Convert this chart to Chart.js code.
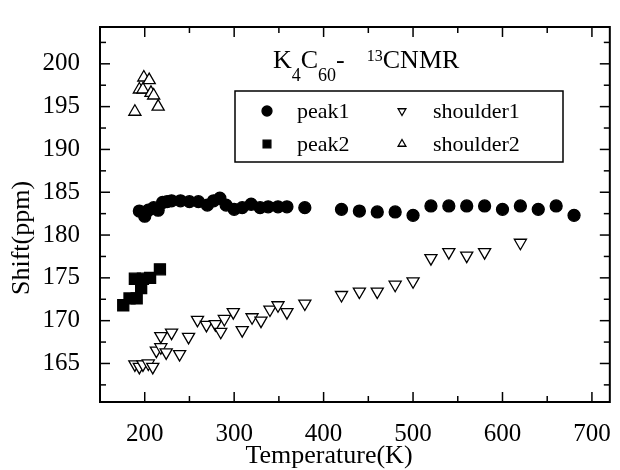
<!DOCTYPE html>
<html>
<head>
<meta charset="utf-8">
<script src="https://cdn.jsdelivr.net/npm/chart.js@4/dist/chart.umd.min.js"></script>
<style>
  html, body { margin: 0; background: #fff; }
  #wrap { width: 620px; height: 470px; }
</style>
</head>
<body>
<div id="wrap"><canvas id="nmr"></canvas></div>
<script>
const FONT = '"Liberation Serif", "DejaVu Serif", serif';

const peak1T = [194, 200, 204, 210, 215, 220, 225, 230, 240, 250, 260, 270, 277, 284, 291, 300, 309, 319, 329, 338, 349, 359, 379,
                420, 440, 460, 480, 500, 520, 540, 560, 580, 600, 620, 640, 660, 680];
const peak1S = [182.8, 182.2, 182.9, 183.2, 182.9, 183.8, 183.9, 184.0, 184.0, 183.9, 183.9, 183.5, 184.0, 184.3, 183.5, 183.0, 183.2, 183.6, 183.2, 183.3, 183.3, 183.3, 183.2,
                183.0, 182.8, 182.7, 182.7, 182.3, 183.4, 183.4, 183.4, 183.4, 183.0, 183.4, 183.0, 183.4, 182.3];

const peak2T = [176, 183, 191, 189, 196, 198, 206, 217];
const peak2S = [171.8, 172.6, 172.6, 174.9, 173.8, 174.9, 175.0, 176.0];

const shoulder1T = [189, 194, 198, 204, 209, 213, 218, 218, 224, 230, 239, 249, 259, 269, 279, 285, 289, 299, 309, 320, 330, 340, 349, 359, 379,
                    420, 440, 460, 480, 500, 520, 540, 560, 580, 620];
const shoulder1S = [164.9, 164.6, 164.9, 165.0, 164.6, 166.5, 166.9, 168.2, 166.3, 168.6, 166.1, 168.1, 170.1, 169.5, 169.6, 168.7, 170.2, 171.0, 168.9, 170.4, 170.0, 171.3, 171.8, 171.0, 172.0,
                    173.0, 173.4, 173.4, 174.2, 174.6, 177.3, 178.0, 177.6, 178.0, 179.1];

const shoulder2T = [189, 194, 198, 199, 205, 207, 210, 215];
const shoulder2S = [194.4, 197.0, 197.0, 198.4, 198.1, 196.6, 196.3, 195.0];

const xRange = [150, 720];
const yRange = [160.5, 204.3];

const pts = (xs, ys) => xs.map((x, i) => ({ x: x, y: ys[i] }));

const series = [
  { label: 'peak1', data: pts(peak1T, peak1S), pointStyle: 'circle', pointRadius: 6, pointRotation: 0,
    pointBackgroundColor: '#000', legend: { col: 0, row: 0, r: 5 } },
  { label: 'peak2', data: pts(peak2T, peak2S), pointStyle: 'rect', pointRadius: 7.8, pointRotation: 0,
    pointBackgroundColor: '#000', legend: { col: 0, row: 1, r: 5.5 } },
  { label: 'shoulder1', data: pts(shoulder1T, shoulder1S), pointStyle: 'triangle', pointRadius: 7, pointRotation: 180,
    pointBackgroundColor: '#fff', legend: { col: 1, row: 0, r: 4.5 } },
  { label: 'shoulder2', data: pts(shoulder2T, shoulder2S), pointStyle: 'triangle', pointRadius: 7, pointRotation: 0,
    pointBackgroundColor: '#fff', legend: { col: 1, row: 1, r: 4.5 } }
];

// frame, inward ticks, annotation text, legend box and axis titles
const decor = {
  id: 'decor',
  afterDraw(chart) {
    const ctx = chart.ctx, ca = chart.chartArea;
    const xs = chart.scales.x, ys = chart.scales.y;
    ctx.save();
    ctx.strokeStyle = '#000';
    ctx.lineWidth = 1.5;
    const line = (x1, y1, x2, y2) => { ctx.beginPath(); ctx.moveTo(x1, y1); ctx.lineTo(x2, y2); ctx.stroke(); };

    const xStep = xs.ticks[1].value - xs.ticks[0].value;
    xs.ticks.forEach(t => {
      [0, 0.5].forEach(f => {
        const v = t.value + f * xStep;
        if (v > xs.max) return;
        const px = xs.getPixelForValue(v), len = f ? 6 : 10;
        line(px, ca.bottom, px, ca.bottom - len);
        line(px, ca.top, px, ca.top + len);
      });
    });
    const yStep = ys.ticks[1].value - ys.ticks[0].value;
    ys.ticks.forEach(t => {
      [-0.5, 0, 0.5].forEach(f => {
        const v = t.value + f * yStep;
        if (v < ys.min || v > ys.max) return;
        if (f === -0.5 && t !== ys.ticks[0]) return;
        const py = ys.getPixelForValue(v), len = f ? 6 : 10;
        line(ca.left, py, ca.left + len, py);
        line(ca.right, py, ca.right - len, py);
      });
    });
    ctx.lineWidth = 2;
    ctx.strokeRect(ca.left, ca.top, ca.width, ca.height);

    ctx.fillStyle = '#000';
    ctx.textBaseline = 'alphabetic';
    ctx.textAlign = 'left';

    // K4C60-  13CNMR
    const parts = [
      { t: 'K', s: 26, dy: 0 }, { t: '4', s: 18, dy: 13 },
      { t: 'C', s: 26, dy: 0 }, { t: '60', s: 18, dy: 13 },
      { t: '-', s: 26, dy: 0 }, { t: '', s: 16, dy: 0, gap: 22 },
      { t: '13', s: 16, dy: -7 }, { t: 'CNMR', s: 26, dy: 0 }
    ];
    let tx = 273;
    const base = 68;
    parts.forEach(p => {
      ctx.font = p.s + 'px ' + FONT;
      ctx.fillText(p.t, tx, base + p.dy);
      tx += ctx.measureText(p.t).width + (p.gap || 0);
    });

    // legend
    const box = { x: 235, y: 91, w: 328, h: 71 };
    ctx.lineWidth = 1.5;
    ctx.strokeRect(box.x, box.y, box.w, box.h);
    const colMark = [267, 402], colText = [297, 433], rowY = [111, 144];
    ctx.font = '22px ' + FONT;
    ctx.textBaseline = 'middle';
    chart.data.datasets.forEach(ds => {
      const L = ds.legend;
      ctx.fillStyle = ds.pointBackgroundColor;
      ctx.strokeStyle = '#000';
      ctx.lineWidth = 1.3;
      Chart.helpers.drawPoint(ctx, { pointStyle: ds.pointStyle, radius: L.r, rotation: ds.pointRotation, borderWidth: 1.3 },
        colMark[L.col], rowY[L.row]);
      ctx.fillStyle = '#000';
      ctx.fillText(ds.label, colText[L.col], rowY[L.row] + 1);
    });

    // axis titles
    ctx.font = '26px ' + FONT;
    ctx.textAlign = 'center';
    ctx.textBaseline = 'alphabetic';
    ctx.fillText('Temperature(K)', 329, 463);
    ctx.translate(29, 238);
    ctx.rotate(-Math.PI / 2);
    ctx.fillText('Shift(ppm)', 0, 0);
    ctx.restore();
  }
};

const tickFont = { family: FONT, size: 25 };

new Chart(document.getElementById('nmr'), {
  type: 'scatter',
  data: {
    datasets: series.map(s => ({
      label: s.label,
      data: s.data,
      pointStyle: s.pointStyle,
      pointRadius: s.pointRadius,
      pointHoverRadius: s.pointRadius,
      pointRotation: s.pointRotation,
      pointBackgroundColor: s.pointBackgroundColor,
      pointBorderColor: '#000',
      pointBorderWidth: 1.3,
      showLine: false,
      legend: s.legend
    }))
  },
  options: {
    responsive: true,
    maintainAspectRatio: false,
    animation: false,
    layout: { padding: { top: 10, right: 4, left: 0, bottom: 0 } },
    plugins: { legend: { display: false }, tooltip: { enabled: false } },
    scales: {
      x: {
        type: 'linear', min: xRange[0], max: xRange[1],
        grid: { display: false }, border: { display: false },
        afterFit(s) { s.height = 68; },
        ticks: { stepSize: 100, includeBounds: false, padding: 9, color: '#000', font: tickFont, maxRotation: 0 }
      },
      y: {
        type: 'linear', min: yRange[0], max: yRange[1],
        grid: { display: false }, border: { display: false },
        afterFit(s) { s.width = 100; },
        ticks: { stepSize: 5, includeBounds: false, padding: 12, color: '#000', font: tickFont }
      }
    }
  },
  plugins: [decor]
});
</script>
</body>
</html>
